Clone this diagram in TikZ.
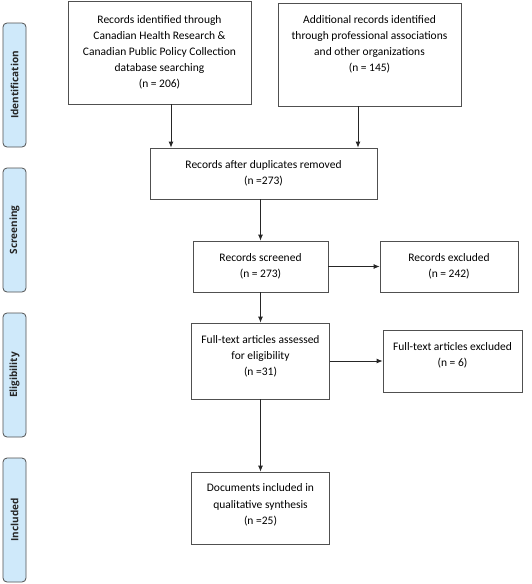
\documentclass[tikz,border=0pt]{standalone}
\usepackage{fontspec}
\setmainfont{Carlito}
\newfontfamily\phasefont{Open Sans}
\usepackage{tikz}
\usetikzlibrary{arrows.meta}
\definecolor{phaseblue}{RGB}{207,233,250}
\definecolor{edgegray}{RGB}{80,80,80}

\begin{document}
\begin{tikzpicture}[x=1pt,y=-1pt,
  box/.style={draw=edgegray,line width=0.8pt,align=center,font=\fontsize{11.5}{16}\selectfont,inner sep=2pt},
  phase/.style={draw=edgegray,line width=0.8pt,fill=phaseblue,rounded corners=4pt,rotate=90,
    minimum width=124pt,minimum height=23pt,font=\phasefont\fontsize{10}{12}\selectfont\bfseries,text=black!85},
  arr/.style={draw=black!85,line width=0.8pt,-{Latex[length=6pt,width=5pt]}}]
\useasboundingbox (0,0) rectangle (531,584);

% phases down the left side
\node [phase] (ident) at (14.5,85) {Identification};
\node [phase] (screen) at (14.5,230) {Screening};
\node [phase] (elig) at (14.5,375) {Eligibility};
\node [phase] (incl) at (14.5,520) {Included};

% identification
\node [box,minimum width=183pt,minimum height=103pt] (db) at (159.5,52.5) {Records identified through\\ Canadian Health Research \&\\ Canadian Public Policy Collection\\ database searching\\ (n = 206)};
\node [box,minimum width=183pt,minimum height=103pt] (other) at (369.5,54.5) {Additional records identified\\ through professional associations\\ and other organizations\\ (n = 145)\\[6pt]};

% screening
\node [box,minimum width=227pt,minimum height=51pt] (dup) at (263.5,173.5) {Records after duplicates removed\\ (n =273)};
\node [box,minimum width=135pt,minimum height=51pt] (screened) at (260.5,266.5) {Records screened\\ (n = 273)};
\node [box,minimum width=138pt,minimum height=51pt] (excl) at (449,266.5) {Records excluded\\ (n = 242)};

% eligibility
\node [box,minimum width=138pt,minimum height=76pt] (full) at (260.5,361) {Full-text articles assessed\\ for eligibility\\ (n =31)\\[-6pt]};
\node [box,minimum width=139pt,minimum height=62pt] (fullexcl) at (452.5,361) {Full-text articles excluded\\ (n = 6)\\[-4pt]};

% included
\node [box,minimum width=138pt,minimum height=72pt] (synth) at (260.5,508) {Documents included in\\ qualitative synthesis\\ (n =25)\\[-8pt]};

\draw [arr] ([xshift=11.5pt]db.south) -- ([xshift=11.5pt]db.south |- dup.north);
\draw [arr] ([xshift=-11.5pt]other.south) -- ([xshift=-11.5pt]other.south |- dup.north);
\draw [arr] (dup.south -| screened.north) -- (screened.north);
\draw [arr] (screened.east) -- (excl.west);
\draw [arr] (screened.south) -- (full.north);
\draw [arr] (full.east) -- (fullexcl.west);
\draw [arr] (full.south) -- (synth.north);

\end{tikzpicture}
\end{document}
